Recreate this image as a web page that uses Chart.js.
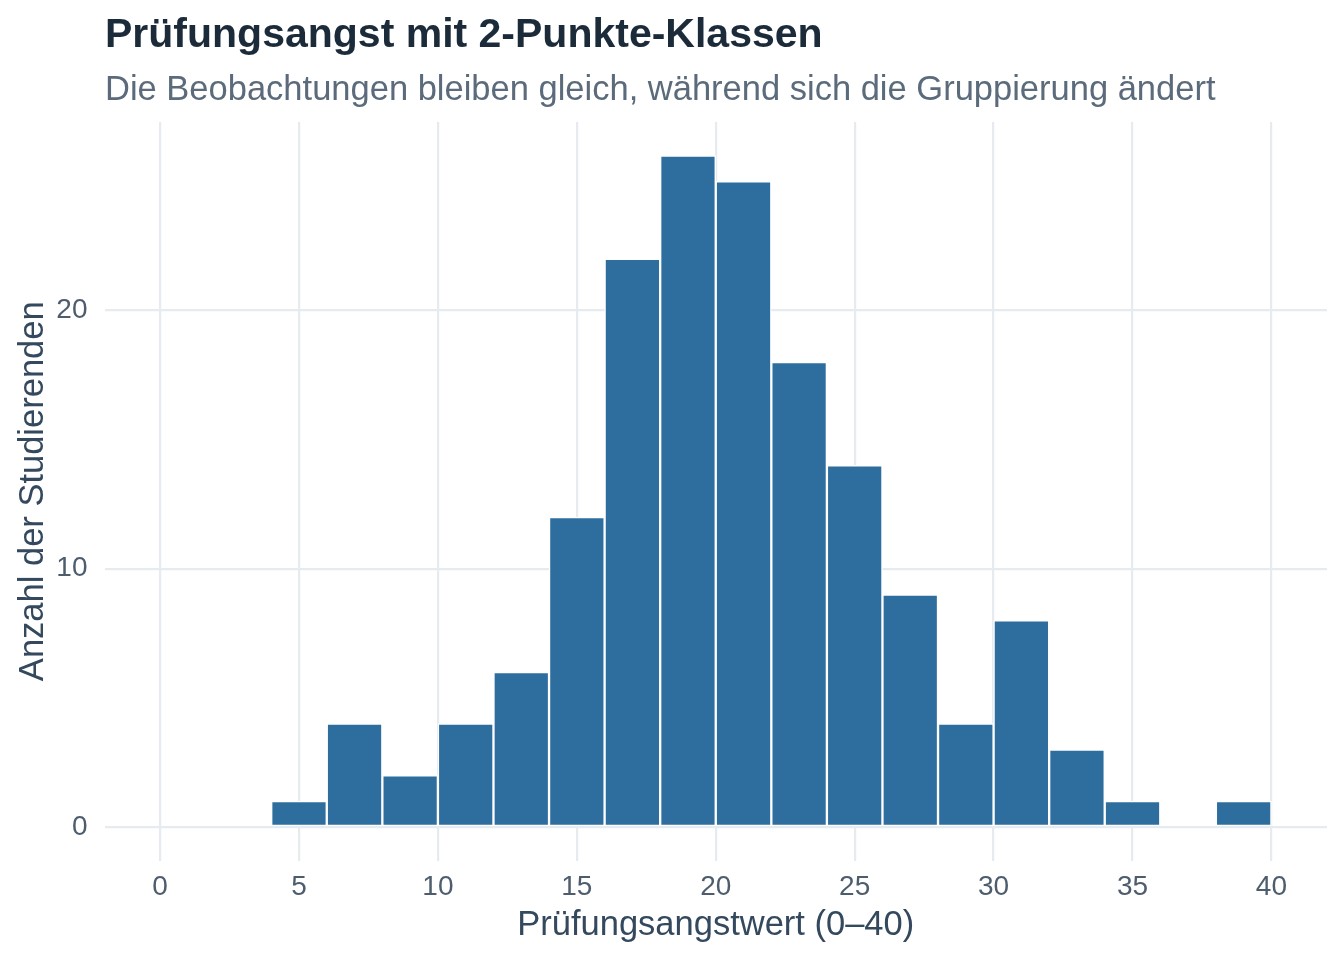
<!DOCTYPE html>
<html lang="de">
<head>
<meta charset="utf-8">
<title>Prüfungsangst mit 2-Punkte-Klassen</title>
<script src="https://cdn.jsdelivr.net/npm/chart.js@4.4.1/dist/chart.umd.min.js"></script>
<style>
  html, body { margin: 0; padding: 0; background: #ffffff; }
  canvas { display: block; }
</style>
</head>
<body>
<canvas id="histo" width="1344" height="960"></canvas>
<script>
// --- Daten: Klassen von 2 Punkten (Mitte jeder Klasse) ---
const klassenMitten = [1, 3, 5, 7, 9, 11, 13, 15, 17, 19, 21, 23, 25, 27, 29, 31, 33, 35, 37, 39];
const anzahl = [0, 0, 1, 4, 2, 4, 6, 12, 22, 26, 25, 18, 14, 9, 4, 8, 3, 1, 0, 1];
const xTicks = [0, 5, 10, 15, 20, 25, 30, 35, 40];
const yTicks = [0, 10, 20];

const titel = 'Prüfungsangst mit 2-Punkte-Klassen';
const untertitel = 'Die Beobachtungen bleiben gleich, während sich die Gruppierung ändert';

const FONT = '"Liberation Sans", Arial, Helvetica, sans-serif';
const gridFarbe = '#e6ebf0';

// Titel + Untertitel links am Panel ausgerichtet (wie ggplot)
const kopfPlugin = {
    id: 'kopf',
    afterDraw(chart) {
        const ctx = chart.ctx;
        ctx.save();
        ctx.textAlign = 'left';
        ctx.textBaseline = 'alphabetic';
        ctx.fillStyle = '#1c2b39';
        ctx.font = 'bold 41px ' + FONT;
        ctx.fillText(titel, 105, 47);
        ctx.fillStyle = '#5b6b7b';
        ctx.font = '34.5px ' + FONT;
        ctx.fillText(untertitel, 105, 100);
        ctx.restore();
    }
};

const ctx = document.getElementById('histo').getContext('2d');
new Chart(ctx, {
    type: 'bar',
    data: {
        datasets: [{
            data: klassenMitten.map((m, i) => ({ x: m, y: anzahl[i] })),
            backgroundColor: '#2e6e9e',
            borderColor: '#ffffff',
            borderWidth: 1.5,
            borderSkipped: false,
            barPercentage: 1,
            categoryPercentage: 1
        }]
    },
    options: {
        responsive: false,
        animation: false,
        devicePixelRatio: 1,
        layout: { padding: { top: 122, right: 17, bottom: 0, left: 0 } },
        plugins: {
            legend: { display: false },
            tooltip: { enabled: false },
            title: { display: false }
        },
        scales: {
            x: {
                type: 'linear',
                offset: false,
                min: -2,
                max: 42,
                afterBuildTicks: (s) => { s.ticks = xTicks.map(v => ({ value: v })); },
                afterFit: (s) => { s.height = 99.5; },
                grid: { color: gridFarbe, lineWidth: 2.2, drawTicks: false, offset: false },
                border: { display: false },
                ticks: { color: '#4d5d6d', font: { family: FONT, size: 28 }, padding: 10, maxRotation: 0 },
                title: {
                    display: true,
                    text: 'Prüfungsangstwert (0–40)',
                    color: '#34495e',
                    font: { family: FONT, size: 34.5, lineHeight: 1.2 },
                    padding: { top: 0, bottom: 14 }
                }
            },
            y: {
                min: -1.3,
                max: 27.3,
                afterBuildTicks: (s) => { s.ticks = yTicks.map(v => ({ value: v })); },
                afterFit: (s) => { s.width = 104.5; },
                grid: { color: gridFarbe, lineWidth: 2.2, drawTicks: false },
                border: { display: false },
                ticks: { color: '#4d5d6d', font: { family: FONT, size: 28 }, padding: 17 },
                title: {
                    display: true,
                    text: 'Anzahl der Studierenden',
                    color: '#34495e',
                    font: { family: FONT, size: 34.5, lineHeight: 1.2 },
                    padding: { top: 13, bottom: 0 }
                }
            }
        }
    },
    plugins: [kopfPlugin]
});
</script>
</body>
</html>
